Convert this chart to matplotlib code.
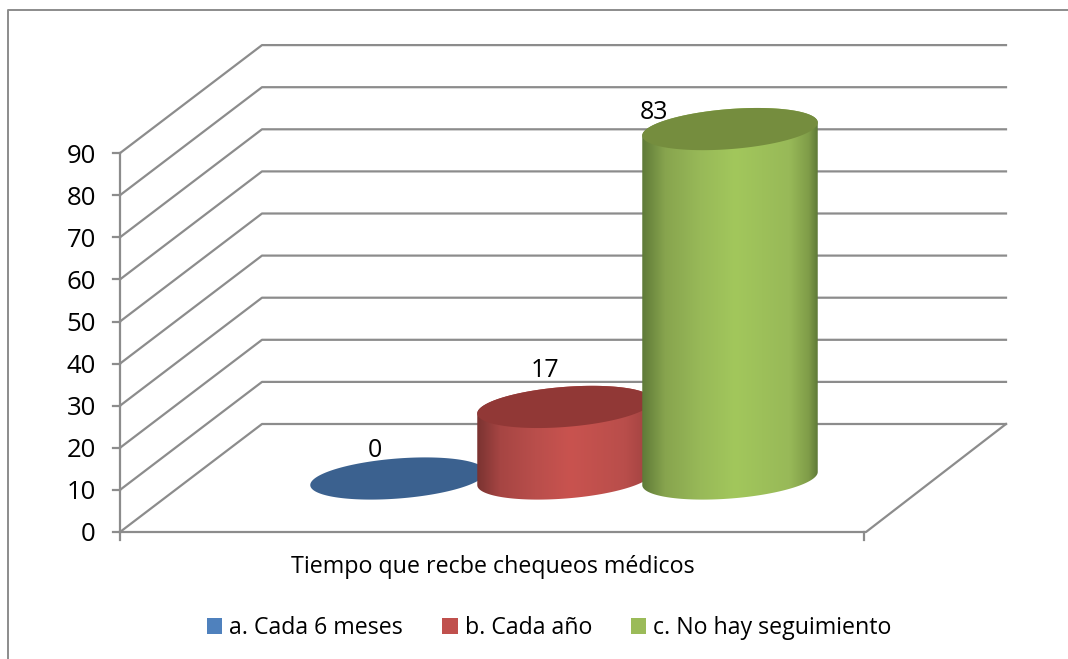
import numpy as np
import matplotlib
matplotlib.use('Agg')
import matplotlib.pyplot as plt
from matplotlib.patches import Patch, Polygon
from matplotlib.colors import LinearSegmentedColormap

categories = ['a. Cada 6 meses', 'b. Cada año', 'c. No hay seguimiento']
values = [0, 17, 83]
y_ticks = [0, 10, 20, 30, 40, 50, 60, 70, 80, 90]
x_title = 'Tiempo que recbe chequeos médicos'

legend_colors = ['#4f81bd', '#c0504d', '#9bbb59']
top_colors = ['#3b618f', '#913836', '#758d3e']
side_colors = [
    ['#2f4d72', '#3b618f', '#42699a', '#4f81bd', '#42699a', '#3b618f', '#2f4d72'],
    ['#7a3331', '#a64543', '#b94e4b', '#c9534f', '#b94e4b', '#a64543', '#8a3c3a'],
    ['#5f7a38', '#87a44e', '#98b958', '#a2c75c', '#98b958', '#7f9c48', '#5f7a38'],
]
side_stops = [0, 0.13, 0.33, 0.53, 0.84, 0.95, 1]

plt.rcParams['font.family'] = ['Open Sans', 'DejaVu Sans']

W, H = 1068, 659
PX = 4.21  # pixels per unit of the value axis
Y0 = 532   # pixel row of value 0

fig = plt.figure(figsize=(W / 100, H / 100), dpi=100)
ax = fig.add_axes([0, 0, 1, 1])
ax.set_xlim(0, W)
ax.set_ylim((Y0 - H) / PX, Y0 / PX)
ax.axis('off')

gray = '#8c8c8c'
dx, dy = 142, 108 / PX   # depth of the 3d box
left, right_front, right_back = 120, 866, 1006
lw = 1.6

# outer frame of the chart
ax.plot([8, 8, W], [(Y0 - H) / PX, (Y0 - 10) / PX, (Y0 - 10) / PX], color=gray, lw=1.4, zorder=1)

# walls and gridlines
for v in y_ticks:
    ax.plot([left, left + dx, right_back], [v, v + dy, v + dy], color=gray, lw=lw, zorder=1)
    ax.plot([left - 7, left], [v, v], color=gray, lw=lw, zorder=1)
    ax.text(96, v - 0.7, str(v), ha='right', va='center', fontsize=18.5, color='black')
ax.plot([left, left], [0, y_ticks[-1]], color=gray, lw=lw, zorder=1)
ax.plot([left, right_front, right_back], [0, 0, dy], color=gray, lw=lw, zorder=1)
for x in [left, right_front - 2]:
    ax.plot([x, x], [0, -8 / PX], color=gray, lw=lw, zorder=1)

# cylinders
centers = [398, 565, 730]
label_x = [375, 545, 654]
label_up = [28, 36, 16.5]  # px above the centre of the top ellipse
a, b, tilt = 88, 20, np.radians(4.5)
floor = 53.5 / PX


def ellipse(cx, v, t):
    x = a * np.cos(t) * np.cos(tilt) - b * np.sin(t) * np.sin(tilt)
    y = a * np.cos(t) * np.sin(tilt) + b * np.sin(t) * np.cos(tilt)
    return cx + x, v + y / PX


for i, (cx, val) in enumerate(zip(centers, values)):
    z = 3 + i
    base = floor
    top = floor + val
    t_right = np.arctan2(-b * np.sin(tilt), a * np.cos(tilt))
    if val > 0:
        lower = np.linspace(t_right - np.pi, t_right, 100)
        xb, yb = ellipse(cx, base, lower)
        upper = np.linspace(t_right, t_right + np.pi, 100)
        xt, yt = ellipse(cx, top, upper)
        verts = np.column_stack([np.r_[xb, xt], np.r_[yb, yt]])
        poly = Polygon(verts, closed=True, facecolor='none', edgecolor='none', zorder=z)
        ax.add_patch(poly)
        cmap = LinearSegmentedColormap.from_list('side', list(zip(side_stops, side_colors[i])))
        img = ax.imshow(np.linspace(0, 1, 256).reshape(1, -1), cmap=cmap, aspect='auto',
                        extent=[cx - a, cx + a, base - 30 / PX, top + 30 / PX], zorder=z)
        img.set_clip_path(poly)
    xe, ye = ellipse(cx, top, np.linspace(0, 2 * np.pi, 200))
    ax.fill(xe, ye, color=top_colors[i], lw=0, zorder=z + 0.1)
    ax.text(label_x[i], top + label_up[i] / PX, str(val), ha='center', va='center', fontsize=18, color='black', zorder=10)

ax.set_xlim(0, W)
ax.set_ylim((Y0 - H) / PX, Y0 / PX)

ax.text(492.5, (Y0 - 567) / PX, x_title, ha='center', va='center', fontsize=16.75, color='black')

handles = [Patch(facecolor=c, edgecolor='none') for c in legend_colors]
ax.legend(handles, categories, ncol=3, loc='center', bbox_to_anchor=(549.5 / W, 1 - 628 / H),
          frameon=False, fontsize=16.7, handlelength=0.65, handleheight=0.65, handletextpad=0.3,
          columnspacing=1.7)

fig.savefig('out.png', dpi=100)
